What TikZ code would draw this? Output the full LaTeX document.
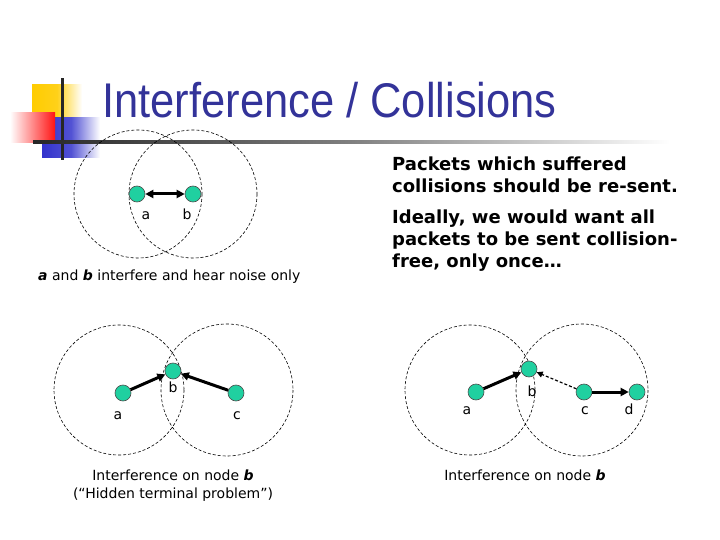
\documentclass[tikz,border=0pt]{standalone}
\usepackage{fontspec}
\setmainfont{DejaVu Sans}
\newfontfamily\titlefont{Liberation Sans}
\usetikzlibrary{arrows.meta}
\definecolor{nodegreen}{RGB}{32,208,160}
\definecolor{titleblue}{RGB}{51,51,153}
\definecolor{logoyellow}{RGB}{255,204,0}
\definecolor{logoblue}{RGB}{51,51,204}
\definecolor{logored}{RGB}{255,20,20}
\begin{document}
\begin{tikzpicture}[x=1pt,y=-1pt,
  station/.style={circle,draw=black!70,fill=nodegreen,minimum size=16pt,inner sep=0pt,line width=0.6pt},
  radiozone/.style={draw,dash pattern=on 3pt off 2pt,line width=0.6pt},
  link/.style={line width=3pt,-{Triangle[length=8pt,width=8pt]}},
  weak/.style={line width=1.2pt,dash pattern=on 3pt off 2pt,-{Triangle[length=6pt,width=6pt]}},
  lbl/.style={font=\fontsize{14}{16}\selectfont,inner sep=0pt,anchor=base},
  para/.style={font=\bfseries\fontsize{18}{22}\selectfont,inner sep=0pt,anchor=base west,align=left}]
\useasboundingbox (0,0) rectangle (720,540);
% logo
\shade[left color=logoyellow,right color=white,middle color=logoyellow!90] (32,85) rectangle (82,118);
\shade[left color=logoblue,right color=white,middle color=logoblue!85] (42,118) rectangle (100,158);
\shade[left color=white,right color=logored] (10,113) rectangle (55,143);
\fill[black!85] (60.5,78) rectangle (63.5,160);
\shade[left color=black!85,right color=white,middle color=black!50] (33,140.5) rectangle (670,143.5);
% title
\node[anchor=base west,text=titleblue,font=\titlefont\fontsize{43.5}{50}\selectfont,inner sep=0pt] (title) at (102,118) {\scalebox{1}[1.12]{Interference / Collisions}};
% right text
\node[para] (p1) at (392,193) {Packets which suffered\\collisions should be re-sent.};
\node[para] (p2) at (392,267) {Ideally, we would want all\\packets to be sent collision-\\free, only once\dots};
% diagram 1
\path[radiozone] (138,194) circle (64) (193,194) circle (64);
\node[station] (a1) at (137,194) {};
\node[station] (b1) at (193,194) {};
\draw[line width=3pt,{Triangle[length=8pt,width=8pt]}-{Triangle[length=8pt,width=8pt]}] (a1) -- (b1);
\node[lbl] (la1) at (146,219) {a};
\node[lbl] (lb1) at (187,219) {b};
\node[lbl,anchor=base west] (cap1) at (38,280) {\textbf{\textit{a}} and \textbf{\textit{b}} interfere and hear noise only};
% diagram 2
\path[radiozone] (119,390) circle (65) (227,390) circle (66);
\node[station] (a2) at (123,393) {};
\node[station] (b2) at (173,371) {};
\node[station] (c2) at (236,393) {};
\draw[link] (a2) -- (b2);
\draw[link] (c2) -- (b2);
\node[lbl] (lb2) at (173,392) {b};
\node[lbl] (la2) at (118,419) {a};
\node[lbl] (lc2) at (237,419) {c};
\node[lbl] (cap2) at (173,480) {Interference on node \textbf{\textit{b}}};
\node[lbl] (cap3) at (173,498) {(“Hidden terminal problem”)};
% diagram 3
\path[radiozone] (470,390) circle (65) (582,390) circle (66);
\node[station] (a3) at (476,392) {};
\node[station] (b3) at (529,369) {};
\node[station] (c3) at (584,392) {};
\node[station] (d3) at (637,392) {};
\draw[link] (a3) -- (b3);
\draw[weak] (c3) -- (b3);
\draw[link] (c3) -- (d3);
\node[lbl] (lb3) at (532,396) {b};
\node[lbl] (la3) at (467,414) {a};
\node[lbl] (lc3) at (585,414) {c};
\node[lbl] (ld3) at (629,414) {d};
\node[lbl] (cap4) at (525,480) {Interference on node \textbf{\textit{b}}};
\end{tikzpicture}
\end{document}
